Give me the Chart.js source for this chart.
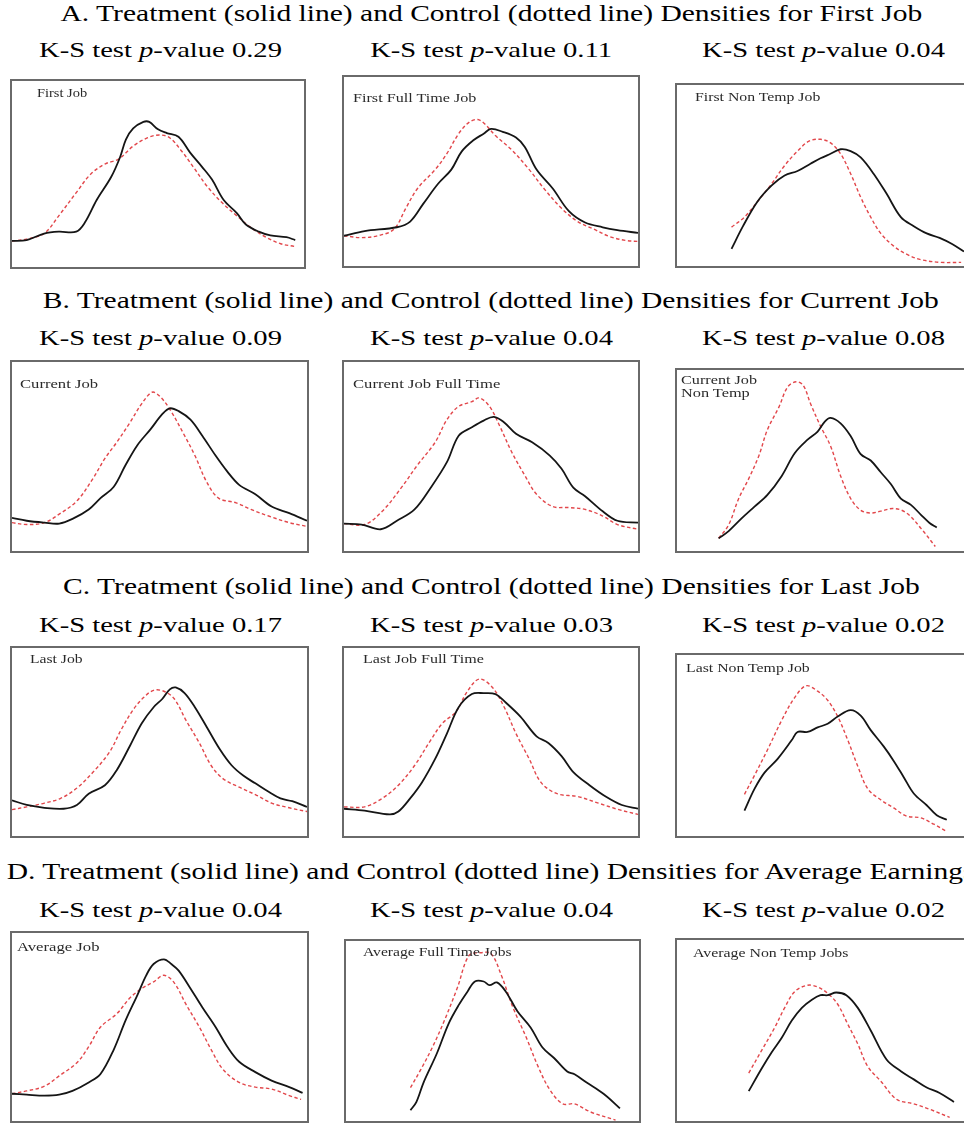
<!DOCTYPE html>
<html>
<head>
<meta charset="utf-8">
<script src="https://cdn.jsdelivr.net/npm/chart.js@4.4.1/dist/chart.umd.min.js"></script>
<style>
  html, body { margin: 0; padding: 0; background: #fff; }
  body { width: 964px; height: 1124px; position: relative; overflow: hidden; font-family: "Liberation Serif", serif; color: #000; }
  .hrow { position: absolute; display: flex; justify-content: center; align-items: center; white-space: nowrap; }
  .hrow span { display: inline-block; flex: none; transform-origin: center center; }
  .heading { font-size: 23px; height: 30px; }
  .sub { font-size: 22px; height: 30px; }
  .panel { position: absolute; box-sizing: border-box; border: 2px solid #6a6a6a; background: #fff; }
  .panel.open { border-right: none; }
  .panel canvas { position: absolute; left: 0; top: 0; }
  .lab { position: absolute; white-space: nowrap; font-size: 13px; line-height: 14px; color: #2a2a2a; transform-origin: left center; z-index: 2; }
</style>
</head>
<body>
<script>
// ---------- Text content ----------
const headings = [
  "A. Treatment (solid line) and Control (dotted line) Densities for First Job",
  "B. Treatment (solid line) and Control (dotted line) Densities for Current Job",
  "C. Treatment (solid line) and Control (dotted line) Densities for Last Job",
  "D. Treatment (solid line) and Control (dotted line) Densities for Average Earnings"
];
const pValues = [
  ["0.29", "0.11", "0.04"],
  ["0.09", "0.04", "0.08"],
  ["0.17", "0.03", "0.02"],
  ["0.04", "0.04", "0.02"]
];
const panelLabels = [
  ["First Job"], ["First Full Time Job"], ["First Non Temp Job"],
  ["Current Job"], ["Current Job Full Time"], ["Current Job", "Non Temp"],
  ["Last Job"], ["Last Job Full Time"], ["Last Non Temp Job"],
  ["Average Job"], ["Average Full Time Jobs"], ["Average Non Temp Jobs"]
];

// ---------- Density curves: [position %, density % of panel height] ----------
const firstJobTreat = [[0,14],[5,14.5],[11,18],[16,19],[22,19],[25,24],[29,36],[34,48.5],[37,59],[39,68.5],[41.5,74.5],[45,78],[47,78],[50,74],[53,72],[57,70],[61,61.5],[65,54],[68.5,47],[72.5,36],[77,29],[80,23],[84.5,19],[88.5,17],[94,16],[97,14.5]];
const firstJobCtrl = [[0,14],[5,15],[11,18],[16,27.5],[22,40],[27,50],[32,55.5],[36.5,58],[41.5,65],[46.5,69.5],[50.5,71],[54,69.5],[58,62.5],[62,54],[67,43],[72,34.5],[77,27.5],[82,21],[87,16],[92,12.5],[97,11]];

const firstFullTreat = [[0,16],[7,18.5],[18,20.5],[22.5,23.5],[27,33],[32,43.5],[36.5,51],[40,60.5],[44,66.5],[47.5,70],[50,72.5],[54,71],[58.5,68],[61.5,63],[65.5,51],[71,41],[76.5,29],[82,23],[88,20.5],[93,19],[100,17.5]];
const firstFullCtrl = [[0,16],[6,15],[11.5,16],[17,19.5],[21,30.5],[25,41],[31,51],[35,59.5],[39,70],[42.5,76],[45.5,77.5],[48,75],[51.5,69],[57,61.5],[63,51],[68,41],[74,30.5],[79.5,23.5],[85,19.5],[90.5,15.5],[96,13.5],[100,13]];

const firstNonTempTreat = [[19,9.5],[23,22],[28,35.5],[33,44.5],[37.5,50],[42,52.5],[46.5,56.5],[50,59.5],[53.5,62],[57,64.5],[60.5,63.5],[64,60],[68.5,51],[73,40],[78,27],[82.5,22],[87,18],[91.5,15.5],[96,12],[100,8]];
const firstNonTempCtrl = [[19,21.5],[23.5,27],[28,35.5],[33,45.5],[37.5,55.5],[42,63.5],[46,69],[50,70],[53.5,68],[57,62],[60.5,51],[64,38],[67.5,27],[71,18],[75.5,11],[80,6.5],[85,3.5],[92,2],[99,2]];

const currentJobTreat = [[0,17.5],[5,16],[11,15],[16,14.5],[20.5,17],[26,22],[30,28],[34.5,34],[38.5,45.5],[42.5,56],[47,64.5],[51,72.5],[53.5,75.5],[56.5,74],[60.5,69.5],[64.5,61],[69,50.5],[73,42],[77,35],[82.5,30],[88,23.5],[94,20],[100,16]];
const currentJobCtrl = [[0,15],[5,14],[11,15],[16,19.5],[22,26.5],[27.5,38.5],[31.5,49],[35.5,57.5],[40,68],[44,78],[47.5,84],[50,82],[53.5,75],[58,62.5],[62,50.5],[66,36.5],[70,28],[76,25.5],[81,22],[87,18.5],[94,15],[100,13]];

const currentFullTreat = [[0,14.5],[6,14],[12.5,11.5],[18,16],[24,22],[29.5,33.5],[35,47],[39,61],[43.5,65.5],[47.5,69],[51,71],[54.5,68],[58.5,62],[64,57.5],[70,50.5],[74,43.5],[78,33.5],[82,29],[88,21],[93,16],[100,15]];
const currentFullCtrl = [[0,14.5],[7,14],[13,21],[19.5,33.5],[25,45.5],[31,57.5],[35,69.5],[39,76.5],[43.5,79],[46,81],[49.5,76.5],[53,66],[57,52.5],[61.5,40],[65.5,30],[71,23.5],[76.5,23],[82,22],[88,18.5],[93,14],[100,11.5]];

const currentNonTempTreat = [[14.5,7],[18,11],[22.5,18],[27,24.5],[31.5,31],[36.5,41.5],[41,54],[45.5,61.5],[49,66],[51.5,71.5],[53.5,73.5],[57,70.5],[60.5,63.5],[64,53.5],[67.5,50],[71,43.5],[74.5,37],[78,29],[81.5,25.5],[85,20],[88,15.5],[90.5,13]];
const currentNonTempCtrl = [[14.5,7],[18,14.5],[21.5,29],[25,40],[28.5,52.5],[31.5,67],[35.5,79.5],[38.5,90.5],[41.5,93.5],[44,91.5],[46.5,81.5],[50,69],[53.5,58],[57,41.5],[60.5,29],[64,22.5],[67.5,21],[71,22],[75.5,23.5],[80,21],[85,12.5],[90,2.5]];

const lastJobTreat = [[0,19],[5,16.5],[11,15],[17.5,14.5],[22,16.5],[26,22.5],[31.5,27],[35.5,35],[40,48],[44,60],[48,68.5],[51,73],[53.5,78],[55.5,79],[58.5,76],[62,68.5],[66,58],[70.5,46],[74.5,37.5],[78.5,32],[82.5,28],[87,23.5],[91,20],[95,18.5],[100,15.5]];
const lastJobCtrl = [[0,14],[5,15.5],[11,17.5],[16.5,20],[22,25.5],[27.5,34],[33,44.5],[37,56.5],[41,67],[44.5,73.5],[48,77.5],[51.5,77],[55,73],[59,61.5],[63.5,49.5],[67.5,37.5],[71.5,30.5],[77,26],[82.5,22],[88,17.5],[94,15],[100,13]];

const lastFullTreat = [[0,14.5],[7,13.5],[15.5,11.5],[18.5,13],[22.5,20],[26.5,28.5],[31,41],[35,54.5],[39,68.5],[43.5,75.5],[47.5,76],[51.5,75.5],[55,71],[60,63.5],[65.5,53],[69.5,49.5],[74,42.5],[78,34],[83.5,27],[89,21],[94.5,16.5],[100,14.5]];
const lastFullCtrl = [[0,15.5],[7,15.5],[13,20],[18.5,27],[24,37.5],[29.5,51],[33.5,60],[38,66],[42,77],[46,83.5],[50.5,79],[54.5,68.5],[58.5,54.5],[63,41],[67,28.5],[72.5,22.5],[79.5,21],[86.5,17.5],[93.5,14],[100,11.5]];

const lastNonTempTreat = [[23.5,14],[27,26],[30.5,35],[35,42.5],[40,53],[42,57.5],[45.5,57.5],[49,60],[52.5,62],[56,66],[60.5,69.5],[64,66.5],[67.5,58.5],[72,49.5],[75.5,41.5],[79,32.5],[82.5,23.5],[87,17],[90.5,11.5],[94,9]];
const lastNonTempCtrl = [[23.5,23],[27,33.5],[31.5,47.5],[36.5,64],[41,76.5],[45,83],[49,80],[52.5,75],[56,66],[59.5,53],[63,38.5],[66.5,26],[71,20],[75.5,15.5],[80,11],[85,10],[89.5,6.5],[94,2.5]];

const avgJobTreat = [[0,14.5],[5,14],[11,13.5],[16,14],[20.5,16],[26,20.5],[30,25],[34.5,38],[38.5,53.5],[42.5,67],[45.5,77.5],[48,83.5],[51.5,86],[54,83.5],[56.5,80],[60.5,70.5],[64.5,60.5],[69,50],[73,39.5],[77,31.5],[82.5,26],[88,21.5],[94,18],[98.5,15]];
const avgJobCtrl = [[0,14.5],[5,16],[11,18.5],[16,24],[22,31],[26,39.5],[30,50],[35.5,57],[40,65.5],[44,70.5],[48,74],[51.5,77.5],[55,73.5],[59,62],[63.5,50],[67.5,38],[71.5,27.5],[77,20.5],[82.5,18],[88,17],[94,13.5],[98,11.5]];

const avgFullTreat = [[22,6],[24,10.5],[26.5,21.5],[31,37.5],[35,54],[38.5,64.5],[41.5,72],[44,77.5],[47,77.5],[49,75.5],[51.5,77],[54.5,72],[58.5,61],[63,52],[67,41],[71,35],[75.5,27.5],[78,26],[82,21.5],[88,15],[93.5,7]];
const avgFullCtrl = [[22,18.5],[25.5,28.5],[29.5,41],[33.5,55.5],[38,74],[42,92],[46,93.5],[49.5,93],[53,81],[57,63],[61.5,46.5],[65.5,30.5],[69.5,17.5],[74,9.5],[78,9.5],[83.5,5],[92,0.5]];

const avgNonTempTreat = [[25,16.5],[29.5,29],[33,38],[36.5,46],[40,55.5],[43.5,62.5],[47,67],[50,69.5],[52.5,69.5],[55.5,71],[59,69.5],[63,62.5],[67.5,50],[73,34],[78,27.5],[82.5,23],[87,18.5],[91.5,15.5],[96.5,10.5]];
const avgNonTempCtrl = [[25,26.5],[29.5,39],[34,51.5],[37.5,62.5],[41,71.5],[45.5,75],[49,74],[52.5,70.5],[56,64.5],[59.5,53.5],[63,42.5],[66.5,30],[71,22],[76.5,12],[82.5,9.5],[88,6.5],[95,2]];

const treatSeries = [firstJobTreat, firstFullTreat, firstNonTempTreat, currentJobTreat, currentFullTreat, currentNonTempTreat, lastJobTreat, lastFullTreat, lastNonTempTreat, avgJobTreat, avgFullTreat, avgNonTempTreat];
const ctrlSeries = [firstJobCtrl, firstFullCtrl, firstNonTempCtrl, currentJobCtrl, currentFullCtrl, currentNonTempCtrl, lastJobCtrl, lastFullCtrl, lastNonTempCtrl, avgJobCtrl, avgFullCtrl, avgNonTempCtrl];

// ---------- Layout ----------
const headingY = [14, 301, 587, 872];
const subY = [50, 338, 625, 910];
const subX = [160, 491, 823];
const panelBoxes = [
  {l:10, t:79, w:296, h:190, open:false, lx:27, ly:[14], lw:[50]},
  {l:342, t:75, w:298, h:193, open:false, lx:11, ly:[23], lw:[123]},
  {l:675, t:83, w:289, h:185, open:true, lx:20, ly:[14], lw:[125]},
  {l:10, t:360, w:299, h:193, open:false, lx:10, ly:[24], lw:[78]},
  {l:342, t:360, w:298, h:193, open:false, lx:11, ly:[24], lw:[147]},
  {l:675, t:368, w:289, h:185, open:true, lx:6, ly:[12,25], lw:[76,69]},
  {l:10, t:646, w:299, h:192, open:false, lx:20, ly:[13], lw:[53]},
  {l:342, t:646, w:298, h:192, open:false, lx:21, ly:[13], lw:[121]},
  {l:675, t:653, w:289, h:185, open:true, lx:11, ly:[15], lw:[124]},
  {l:10, t:931, w:299, h:192, open:false, lx:7, ly:[16], lw:[82]},
  {l:344, t:939, w:297, h:184, open:false, lx:19, ly:[13], lw:[149]},
  {l:675, t:938, w:289, h:185, open:true, lx:18, ly:[15], lw:[156]}
];

const body = document.body;
const headSpans = [], subSpans = [], labSpans = [];

headings.forEach((txt, r) => {
  const d = document.createElement('div');
  d.className = 'hrow heading';
  d.style.left = '0px'; d.style.width = '982px';
  d.style.top = (headingY[r] - 15) + 'px';
  const s = document.createElement('span');
  s.textContent = txt;
  d.appendChild(s); body.appendChild(d); headSpans.push(s);
  pValues[r].forEach((pv, c) => {
    const e = document.createElement('div');
    e.className = 'hrow sub';
    e.style.left = (subX[c] - 150) + 'px'; e.style.width = '300px';
    e.style.top = (subY[r] - 15) + 'px';
    const sp = document.createElement('span');
    sp.innerHTML = 'K-S test <i>p</i>-value ' + pv;
    e.appendChild(sp); body.appendChild(e); subSpans.push(sp);
  });
});

panelBoxes.forEach((b, i) => {
  const p = document.createElement('div');
  p.className = 'panel' + (b.open ? ' open' : '');
  p.style.left = b.l + 'px'; p.style.top = b.t + 'px';
  p.style.width = b.w + 'px'; p.style.height = b.h + 'px';
  const cw = b.w - (b.open ? 2 : 4), ch = b.h - 4;
  const cv = document.createElement('canvas');
  cv.width = cw; cv.height = ch;
  cv.style.width = cw + 'px'; cv.style.height = ch + 'px';
  p.appendChild(cv);
  panelLabels[i].forEach((t, k) => {
    const lb = document.createElement('div');
    lb.className = 'lab';
    lb.textContent = t;
    lb.style.left = (b.lx - 2) + 'px';
    lb.style.top = (b.ly[k] - 2 - 7) + 'px';
    p.appendChild(lb);
    labSpans.push({el: lb, w: b.lw[k]});
  });
  body.appendChild(p);

  const toPts = arr => arr.map(v => ({x: v[0], y: v[1]}));
  new Chart(cv, {
    type: 'line',
    data: {
      datasets: [
        {label: 'Treatment', data: toPts(treatSeries[i]), borderColor: '#151515', borderWidth: 1.8, tension: 0.35, pointRadius: 0, fill: false},
        {label: 'Control', data: toPts(ctrlSeries[i]), borderColor: '#e2474b', borderWidth: 1.4, borderDash: [3.5, 2.5], tension: 0.35, pointRadius: 0, fill: false}
      ]
    },
    options: {
      responsive: false, maintainAspectRatio: false, animation: false, devicePixelRatio: 1,
      layout: {padding: 0},
      plugins: {legend: {display: false}, tooltip: {enabled: false}},
      events: [],
      scales: {
        x: {type: 'linear', min: 0, max: 100, display: false},
        y: {type: 'linear', min: 0, max: 100, display: false}
      }
    }
  });
});

function fitText() {
  const hs = 862 / headSpans[0].offsetWidth;
  headSpans.forEach(s => s.style.transform = 'scaleX(' + hs + ')');
  const ss = 243 / subSpans[0].offsetWidth;
  subSpans.forEach(s => s.style.transform = 'scaleX(' + ss + ')');
  labSpans.forEach(o => {
    o.el.style.transform = 'scaleX(' + (o.w / o.el.offsetWidth) + ')';
  });
}
fitText();
if (document.fonts && document.fonts.ready) document.fonts.ready.then(fitText);
</script>
</body>
</html>
